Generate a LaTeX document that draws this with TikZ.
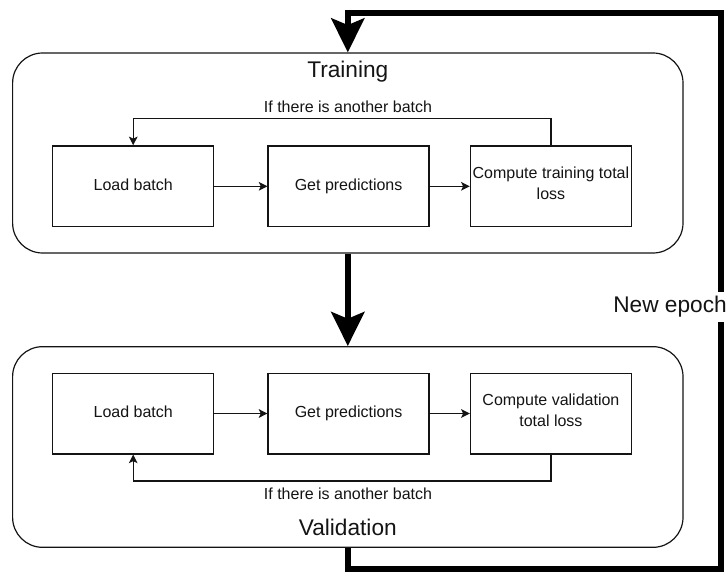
\documentclass[tikz,border=0pt]{standalone}
\usepackage{fontspec}
\setmainfont{Liberation Sans}
\usepackage{xcolor}
\usepackage{tikz}
\usetikzlibrary{positioning, arrows.meta}
\definecolor{primary}{RGB}{20, 20, 20}
\tikzset{
    base/.style={draw=primary, line width=1pt, align=center, font=\fontsize{12}{15.5}\selectfont, fill=white, text=primary},
    stepbox/.style={base, rectangle, minimum width=120.75pt, minimum height=60.5pt, inner sep=1pt, execute at begin node=\strut, execute at end node=\strut},
    phase/.style={draw=primary, line width=0.9pt, rounded corners=22.5pt, minimum width=502.8pt, minimum height=150pt},
    title/.style={font=\fontsize{17}{20}\selectfont, text=primary},
    note/.style={font=\fontsize{12}{15}\selectfont, text=primary},
    arrow/.style={-{Stealth[length=6.5pt, width=6.5pt, inset=1.5pt]}, line width=0.9pt, draw=primary},
    bigarrow/.style={-{Stealth[length=25.5pt, width=24.75pt, inset=5pt]}, line width=4.5pt, draw=black}
}

\begin{document}
\begin{tikzpicture}[x=0.75pt, y=-0.75pt]
\useasboundingbox (0,0) rectangle (728,574);

% Phases
\node[phase] (train) at (347.8,153) {};
\node[phase, minimum height=150.5pt] (valid) at (347.8,447) {};
\node[title] (traintitle) at (347.8,72) {Training};
\node[title] (validtitle) at (347.8,527) {Validation};

% Training steps
\node[stepbox] (tload) at (133.2,186.3) {Load batch};
\node[stepbox, right=39.8pt of tload] (tpred) {Get predictions};
\node[stepbox, right=30pt of tpred] (tloss) {Compute training total\\loss};

% Validation steps
\node[stepbox] (vload) at (133.2,413.5) {Load batch};
\node[stepbox, right=39.8pt of vload] (vpred) {Get predictions};
\node[stepbox, right=30pt of vpred] (vloss) {Compute validation\\total loss};

% Flow
\draw[arrow] (tload) -- (tpred);
\draw[arrow] (tpred) -- (tloss);
\draw[arrow] (tloss.north) -- ++(0,-26.5) -| (tload.north);
\node[note] (tagain) at (348,107) {If there is another batch};

\draw[arrow] (vload) -- (vpred);
\draw[arrow] (vpred) -- (vloss);
\draw[arrow] (vloss.south) -- ++(0,26.5) -| (vload.south);
\node[note] (vagain) at (348,494) {If there is another batch};

% Epoch loop
\coordinate (loopbr) at (721,569);
\coordinate (looptr) at (721,13.5);
\draw[bigarrow] (train.south) -- (valid.north);
\draw[bigarrow] (valid.south) |- (loopbr) -- (looptr) -| (train.north);
\node[title, fill=white, anchor=east, inner xsep=0pt, inner ysep=0pt, minimum height=22.5pt] (epoch) at (727,307) {New epoch};

\end{tikzpicture}
\end{document}
